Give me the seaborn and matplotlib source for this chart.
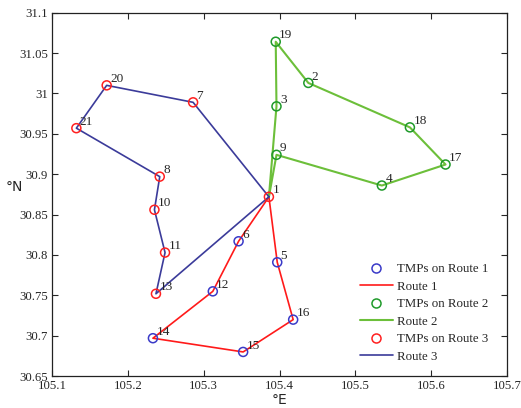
import pandas as pd
import matplotlib
matplotlib.use("Agg")
import matplotlib.pyplot as plt
import seaborn as sns
from matplotlib.lines import Line2D

# node coordinates (longitude, latitude)
node_id = list(range(1, 22))
lon = [105.386, 105.438, 105.396, 105.535, 105.397, 105.346, 105.286, 105.242, 105.396, 105.235,
       105.249, 105.312, 105.237, 105.233, 105.352, 105.418, 105.619, 105.572, 105.395, 105.172, 105.132]
lat = [30.872, 31.013, 30.984, 30.886, 30.791, 30.817, 30.989, 30.897, 30.924, 30.856,
       30.803, 30.755, 30.752, 30.697, 30.680, 30.720, 30.912, 30.958, 31.064, 31.010, 30.957]

# visiting order of each route (depot = node 1)
route1 = [1, 6, 12, 14, 15, 16, 5, 1]
route2 = [1, 3, 19, 2, 18, 17, 4, 9, 1]
route3 = [1, 7, 20, 21, 8, 10, 11, 13, 1]

nodes = pd.DataFrame({"id": node_id, "lon": lon, "lat": lat}).set_index("id")

def route_df(r):
    d = nodes.loc[r].reset_index()
    d["step"] = range(len(d))
    return d

line_col = {"r1": "#ff1a1a", "r2": "#6cbf3a", "r3": "#3b3b9a"}
mark_col = {"r1": "#3a3ac8", "r2": "#1f9a2a", "r3": "#ff2020"}

sns.set_style("ticks")
plt.rcParams["font.family"] = ["Liberation Serif", "DejaVu Serif"]

fig = plt.figure(figsize=(5.21, 4.08), dpi=100)
ax = fig.add_axes([0.100, 0.078, 0.873, 0.891])

for key, r, lw in [("r1", route1, 1.2), ("r2", route2, 1.5), ("r3", route3, 1.2)]:
    d = route_df(r)
    sns.lineplot(data=d, x="lon", y="lat", sort=False, estimator=None, color=line_col[key],
                 linewidth=lw, ax=ax)

for key, r in [("r1", route1), ("r2", route2), ("r3", route3)]:
    d = route_df(r[1:-1])
    if key == "r3":
        d = route_df(r[:-1])
    sns.scatterplot(data=d, x="lon", y="lat", marker="o", facecolor="none",
                    edgecolor=mark_col[key], linewidth=1.1, s=42, ax=ax, zorder=5)

for i in node_id:
    ax.text(nodes.loc[i, "lon"] + 0.0045, nodes.loc[i, "lat"] + 0.0005, str(i),
            fontsize=9.5, ha="left", va="bottom")

ax.set_xlim(105.1, 105.7)
ax.set_ylim(30.65, 31.1)
ax.set_xticks([105.1, 105.2, 105.3, 105.4, 105.5, 105.6, 105.7])
ax.set_xticklabels(["105.1", "105.2", "105.3", "105.4", "105.5", "105.6", "105.7"])
ax.set_yticks([30.65, 30.7, 30.75, 30.8, 30.85, 30.9, 30.95, 31, 31.05, 31.1])
ax.set_yticklabels(["30.65", "30.7", "30.75", "30.8", "30.85", "30.9", "30.95", "31", "31.05", "31.1"])
ax.tick_params(direction="in", top=True, right=True, labelsize=9.2, length=4, width=0.8, pad=3)
for s in ax.spines.values():
    s.set_linewidth(0.9)
    s.set_color("#222222")

ax.set_xlabel("°E", fontsize=10, family=["DejaVu Sans"], va="center")
ax.xaxis.set_label_coords(0.5, -0.066)
ax.set_ylabel("°N", fontsize=10, family=["DejaVu Sans"], rotation=0, va="center", ha="center")
ax.yaxis.set_label_coords(-0.082, 0.52)

handles = [
    Line2D([], [], ls="none", marker="o", mfc="none", mec=mark_col["r1"], ms=6.5, mew=1.1),
    Line2D([], [], color=line_col["r1"], lw=1.2),
    Line2D([], [], ls="none", marker="o", mfc="none", mec=mark_col["r2"], ms=6.5, mew=1.1),
    Line2D([], [], color=line_col["r2"], lw=1.5),
    Line2D([], [], ls="none", marker="o", mfc="none", mec=mark_col["r3"], ms=6.5, mew=1.1),
    Line2D([], [], color=line_col["r3"], lw=1.2),
]
labels = ["TMPs on Route 1", "Route 1", "TMPs on Route 2", "Route 2", "TMPs on Route 3", "Route 3"]
ax.legend(handles, labels, loc="lower right", bbox_to_anchor=(0.985, 0.005), frameon=False,
          fontsize=9.3, handlelength=2.6, handletextpad=0.3, labelspacing=0.42)

fig.savefig("out.png", dpi=100)
